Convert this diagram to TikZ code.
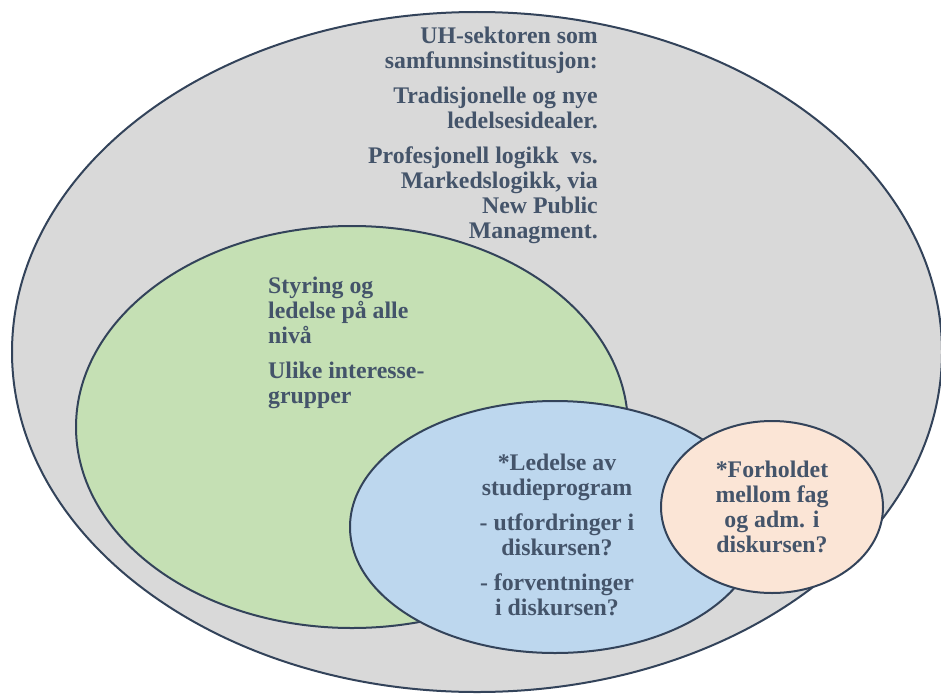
\documentclass[tikz,border=0pt]{standalone}
\usepackage{fontspec}
\setmainfont{Liberation Serif}[BoldFont={Liberation Serif Bold}]
\usetikzlibrary{shapes.geometric}
\definecolor{edge}{HTML}{33435A}
\definecolor{ink}{HTML}{44546A}
\definecolor{greyfill}{HTML}{D9D9D9}
\definecolor{greenfill}{HTML}{C5E0B4}
\definecolor{bluefill}{HTML}{BDD7EE}
\definecolor{peachfill}{HTML}{FBE5D6}
\tikzset{
  zone/.style={ellipse, draw=edge, line width=2pt, inner sep=0pt},
  txt/.style={text=ink, inner sep=0pt, font=\bfseries\fontsize{23.8}{25}\selectfont}
}
\begin{document}
\begin{tikzpicture}[x=1pt, y=-1pt]
  \useasboundingbox (0,0) rectangle (941,693);
  % nested domains
  \node[zone, fill=greyfill,  minimum width=930pt, minimum height=680pt] (sector) at (477,352) {};
  \node[zone, fill=greenfill, minimum width=552pt, minimum height=402pt] (gov)    at (352,427) {};
  \node[zone, fill=bluefill,  minimum width=410pt, minimum height=252pt] (prog)   at (555,527) {};
  \node[zone, fill=peachfill, minimum width=222pt, minimum height=172pt] (rel)    at (772,507) {};
  % texts
  \node[txt, anchor=north east, align=right] (sectortext) at (598,27)
    {UH-sektoren som\\samfunnsinstitusjon:\\[10pt]
     Tradisjonelle og nye\\ledelsesidealer.\\[10pt]
     Profesjonell logikk\ \ vs.\\Markedslogikk, via\\New Public\\Managment.};
  \node[txt, anchor=north west, align=left] (govtext) at (268,277)
    {Styring og\\ledelse på alle\\nivå\\[10pt]
     Ulike interesse-\\grupper};
  \node[txt, anchor=north, align=center] (progtext) at (557,454)
    {*Ledelse av\\studieprogram\\[10pt]
     - utfordringer i\\diskursen?\\[10pt]
     - forventninger\\i diskursen?};
  \node[txt, anchor=north, align=center] (reltext) at (772,461)
    {*Forholdet\\mellom fag\\og adm. i\\diskursen?};
\end{tikzpicture}
\end{document}
